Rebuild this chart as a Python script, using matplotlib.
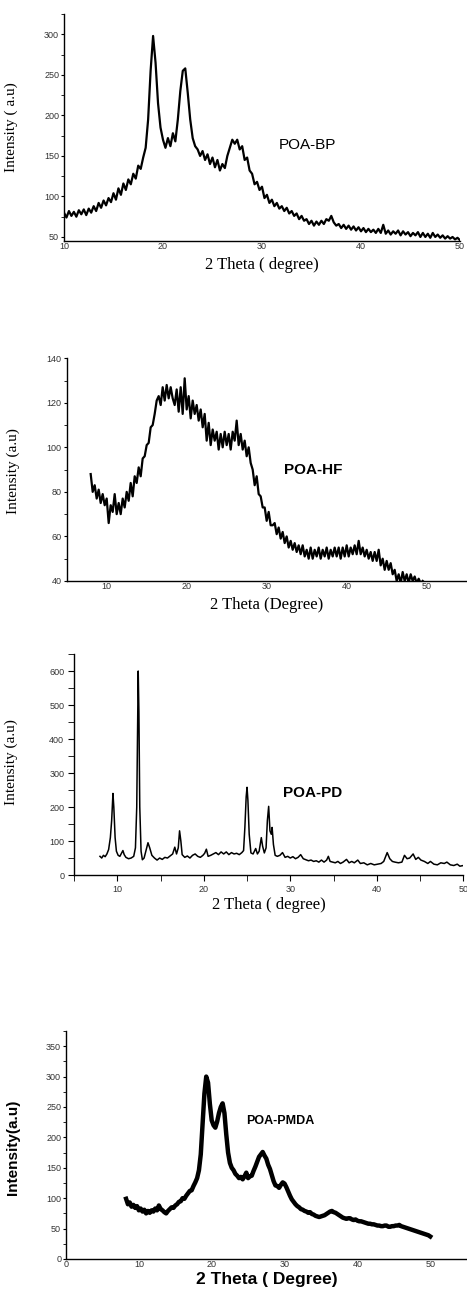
import numpy as np
import matplotlib
matplotlib.use("Agg")
import matplotlib.pyplot as plt
from matplotlib.ticker import MultipleLocator

# ---- data ----
# POA-BP, 10..50 deg, 0.25 deg step
bp_counts = [80, 74, 82, 76, 81, 75, 83, 78,
             84, 77, 85, 80, 88, 82, 92, 86,
             95, 89, 98, 93, 104, 96, 110, 102,
             116, 108, 121, 115, 128, 122, 138, 134,
             148, 160, 195, 255, 298, 265, 215, 185,
             170, 160, 172, 162, 178, 168, 195, 230,
             255, 258, 228, 195, 172, 162, 158, 150,
             156, 145, 152, 140, 148, 136, 145, 132,
             140, 135, 150, 160, 170, 165, 170, 158,
             162, 145, 148, 132, 128, 115, 118, 108,
             112, 98, 102, 92, 96, 88, 92, 85,
             88, 82, 86, 79, 82, 76, 79, 72,
             76, 70, 72, 66, 70, 64, 69, 65,
             70, 66, 72, 70, 76, 68, 64, 66,
             61, 65, 60, 64, 59, 63, 58, 62,
             57, 61, 56, 60, 56, 59, 55, 60,
             55, 65, 54, 58, 53, 57, 54, 58,
             52, 57, 53, 56, 51, 55, 52, 56,
             50, 55, 50, 54, 49, 55, 50, 53,
             49, 52, 48, 51, 48, 50, 47, 49,
             46]
bp_theta = np.linspace(10, 50, len(bp_counts))

# POA-HF, 8..49.5 deg, 0.25 deg step
hf_counts = [88, 80, 83, 77, 81, 75, 79, 74,
             77, 66, 74, 71, 79, 70, 75, 70,
             77, 73, 80, 76, 84, 78, 87, 84,
             91, 87, 95, 96, 101, 102, 109, 110,
             115, 121, 123, 119, 127, 121, 128, 122,
             127, 122, 119, 126, 116, 127, 115, 131,
             117, 123, 113, 121, 115, 119, 112, 117,
             109, 115, 103, 111, 101, 108, 103, 107,
             99, 106, 100, 107, 101, 106, 99, 107,
             103, 112, 101, 106, 99, 103, 96, 100,
             93, 90, 83, 87, 79, 78, 73, 73,
             67, 71, 65, 65, 66, 61, 64, 59,
             62, 57, 60, 55, 58, 54, 57, 53,
             56, 52, 56, 51, 54, 50, 55, 50,
             54, 51, 55, 50, 54, 51, 55, 50,
             54, 51, 55, 51, 55, 50, 55, 51,
             56, 51, 55, 52, 56, 52, 58, 52,
             55, 51, 54, 50, 53, 49, 53, 49,
             54, 47, 50, 45, 49, 45, 48, 43,
             45, 40, 43, 39, 44, 40, 43, 39,
             43, 40, 42, 39, 41, 39, 40]
hf_theta = np.linspace(8, 49.5, len(hf_counts))

# POA-PD, sharp peaks so sampled unevenly
pd_theta = [8.0, 8.2, 8.4, 8.6, 8.8, 9.0, 9.2, 9.35, 9.5, 9.6, 9.75, 9.9,
            10.1, 10.3, 10.5, 10.65, 10.8, 11.0, 11.3, 11.6, 11.9, 12.1,
            12.25, 12.35, 12.42, 12.5, 12.6, 12.75, 12.9, 13.1, 13.3, 13.55,
            13.75, 14.0, 14.3, 14.6, 14.9, 15.2, 15.5, 15.8, 16.1, 16.4,
            16.65, 16.85, 17.05, 17.2, 17.35, 17.5, 17.8, 18.1, 18.4, 18.7,
            19.0, 19.3, 19.6, 19.9, 20.1, 20.3, 20.5, 20.8, 21.1, 21.4,
            21.7, 22.0, 22.3, 22.6, 22.9, 23.2, 23.5, 23.8, 24.1, 24.4,
            24.6, 24.75, 24.9, 25.0, 25.1, 25.25, 25.45, 25.7, 26.0, 26.2,
            26.4, 26.65, 26.8, 27.0, 27.2, 27.35, 27.5, 27.65, 27.8, 27.9,
            28.05, 28.25, 28.5, 28.8, 29.1, 29.4, 29.7, 30.0, 30.3, 30.6,
            30.9, 31.2, 31.5, 31.8, 32.1, 32.4, 32.7, 33.0, 33.3, 33.6,
            33.9, 34.2, 34.4, 34.6, 34.9, 35.2, 35.5, 35.8, 36.1, 36.5,
            36.8, 37.1, 37.4, 37.8, 38.1, 38.5, 38.9, 39.3, 39.7, 40.1,
            40.5, 40.8, 41.2, 41.5, 41.8, 42.1, 42.5, 42.9, 43.2, 43.5,
            43.8, 44.2, 44.5, 44.8, 45.1, 45.5, 45.9, 46.2, 46.6, 47.0,
            47.4, 47.8, 48.1, 48.5, 48.9, 49.3, 49.6, 50.0]
pd_counts = [55, 50, 58, 54, 62, 75, 110, 160, 240, 200, 110, 70,
             58, 55, 65, 72, 60, 52, 48, 50, 55, 80,
             200, 450, 600, 480, 200, 70, 45, 50, 70, 95,
             80, 58, 50, 44, 50, 46, 52, 50, 56, 62,
             82, 62, 80, 130, 100, 60, 52, 56, 50, 58,
             62, 55, 52, 58, 64, 76, 55, 58, 62, 66,
             60, 68, 62, 68, 60, 66, 62, 64, 60, 66,
             72, 140, 230, 258, 220, 120, 65, 62, 78, 62,
             70, 110, 85, 65, 80, 160, 202, 130, 120, 140,
             90, 58, 55, 58, 66, 52, 55, 50, 54, 48,
             52, 60, 48, 45, 42, 44, 40, 42, 38, 44,
             38, 44, 55, 40, 38, 36, 40, 34, 38, 46,
             36, 40, 36, 44, 34, 36, 30, 34, 30, 32,
             34, 40, 66, 48, 40, 38, 36, 38, 58, 48,
             50, 62, 46, 52, 44, 40, 34, 40, 32, 30,
             36, 34, 38, 30, 28, 32, 26, 28]

# POA-PMDA, 8.25..50 deg, 0.25 deg step
pmda_counts = [99, 90, 93, 86, 89, 84, 87,
               80, 83, 78, 81, 75, 79, 76, 80,
               78, 83, 80, 88, 82, 80, 77, 75,
               79, 82, 85, 84, 88, 90, 94, 95,
               100, 99, 104, 108, 112, 113, 120, 126,
               133, 146, 172, 222, 272, 300, 290, 255,
               228, 220, 216, 226, 240, 250, 256, 240,
               205, 175, 158, 150, 146, 140, 137, 133,
               135, 131, 136, 142, 133, 136, 137, 145,
               152, 160, 168, 172, 176, 170, 165, 155,
               148, 138, 128, 121, 120, 117, 122, 126,
               124, 118, 111, 104, 98, 94, 90, 87,
               85, 82, 81, 79, 78, 76, 77, 74,
               73, 71, 70, 69, 70, 71, 72, 74,
               76, 78, 79, 77, 76, 74, 72, 70,
               68, 67, 66, 67, 67, 65, 64, 65,
               63, 62, 62, 61, 60, 59, 58, 58,
               57, 57, 56, 55, 55, 54, 54, 55,
               55, 53, 53, 54, 54, 55, 55, 56,
               54, 53, 52, 51, 50, 49, 48, 47,
               46, 45, 44, 43, 42, 41, 40, 39,
               37]
pmda_theta = np.linspace(8.25, 50, len(pmda_counts))

SANS = "Liberation Sans"
SERIF = "Liberation Serif"

fig = plt.figure(figsize=(4.67, 12.91), dpi=100)


def style_axes(ax, tick_len_y, tick_len_x, pad_y, pad_x):
    ax.spines["top"].set_visible(False)
    ax.spines["right"].set_visible(False)
    for s in ("left", "bottom"):
        ax.spines[s].set_linewidth(1.0)
    ax.tick_params(axis="y", which="major", direction="out", length=tick_len_y,
                   width=0.8, pad=pad_y, labelsize=6.5, labelcolor="#333333")
    ax.tick_params(axis="y", which="minor", direction="out", length=tick_len_y,
                   width=0.6)
    ax.tick_params(axis="x", which="major", direction="out", length=tick_len_x,
                   width=0.8, pad=pad_x, labelsize=6.5, labelcolor="#333333")
    ax.tick_params(axis="x", which="minor", direction="out", length=tick_len_x,
                   width=0.6)
    for lab in ax.get_xticklabels() + ax.get_yticklabels():
        lab.set_fontfamily(SANS)


# ---- panel 1: POA-BP ----
ax1 = fig.add_axes([0.137, 0.8133, 0.848, 0.1758])
ax1.plot(bp_theta, bp_counts, color="black", lw=1.6)
ax1.set_xlim(10, 50)
ax1.set_ylim(45, 325)
ax1.yaxis.set_major_locator(MultipleLocator(50))
ax1.yaxis.set_minor_locator(MultipleLocator(25))
ax1.xaxis.set_major_locator(MultipleLocator(10))
style_axes(ax1, 2.5, 0, 1, 0.5)
ax1.set_ylabel("Intensity ( a.u)", fontfamily=SERIF, fontsize=11)
ax1.yaxis.set_label_coords(-0.116, 0.5)
ax1.set_xlabel("2 Theta ( degree)", fontfamily=SERIF, fontsize=12)
ax1.xaxis.set_label_coords(0.5, -0.07)
ax1.xaxis.label.set_va("top")
ax1.text(31.7, 163, "POA-BP", fontfamily=SANS, fontsize=11, va="center")

# ---- panel 2: POA-HF ----
ax2 = fig.add_axes([0.1428, 0.5500, 0.8565, 0.1725])
ax2.plot(hf_theta, hf_counts, color="black", lw=1.6)
ax2.set_xlim(5, 55)
ax2.set_ylim(40, 140)
ax2.yaxis.set_major_locator(MultipleLocator(20))
ax2.yaxis.set_minor_locator(MultipleLocator(10))
ax2.set_xticks([10, 20, 30, 40, 50])
style_axes(ax2, 2.5, 0, 1, 0.5)
ax2.set_ylabel("Intensity (a.u)", fontfamily=SERIF, fontsize=11)
ax2.yaxis.set_label_coords(-0.117, 0.494)
ax2.set_xlabel("2 Theta (Degree)", fontfamily=SERIF, fontsize=12)
ax2.xaxis.set_label_coords(0.5, -0.07)
ax2.xaxis.label.set_va("top")
ax2.text(32.2, 90, "POA-HF", fontfamily=SANS, fontsize=11,
         fontweight="bold", va="center")

# ---- panel 3: POA-PD ----
ax3 = fig.add_axes([0.1585, 0.3222, 0.8336, 0.1712])
ax3.plot(pd_theta, pd_counts, color="black", lw=1.1)
ax3.set_xlim(5, 50)
ax3.set_ylim(0, 650)
ax3.yaxis.set_major_locator(MultipleLocator(100))
ax3.yaxis.set_minor_locator(MultipleLocator(50))
ax3.xaxis.set_major_locator(MultipleLocator(10))
ax3.xaxis.set_minor_locator(MultipleLocator(5))
style_axes(ax3, 4, 4, 3, 3)
ax3.set_ylabel("Intensity (a.u)", fontfamily=SERIF, fontsize=11)
ax3.yaxis.set_label_coords(-0.144, 0.51)
ax3.set_xlabel("2 Theta ( degree)", fontfamily=SERIF, fontsize=12)
ax3.xaxis.set_label_coords(0.5, -0.1)
ax3.xaxis.label.set_va("top")
ax3.text(29.2, 241, "POA-PD", fontfamily=SANS, fontsize=11,
         fontweight="bold", va="center")

# ---- panel 4: POA-PMDA ----
ax4 = fig.add_axes([0.1413, 0.0248, 0.858, 0.1766])
ax4.plot(pmda_theta, pmda_counts, color="black", lw=3.2)
ax4.set_xlim(0, 55)
ax4.set_ylim(0, 375)
ax4.yaxis.set_major_locator(MultipleLocator(50))
ax4.yaxis.set_minor_locator(MultipleLocator(25))
ax4.set_xticks([0, 10, 20, 30, 40, 50])
style_axes(ax4, 2.5, 0, 1, 0.5)
ax4.set_ylabel("Intensity(a.u)", fontfamily=SANS, fontsize=11,
               fontweight="bold")
ax4.yaxis.set_label_coords(-0.115, 0.49)
ax4.set_xlabel("2 Theta ( Degree)", fontfamily=SANS, fontsize=12.5,
               fontweight="bold")
ax4.xaxis.set_label_coords(0.5, -0.055)
ax4.xaxis.label.set_va("top")
ax4.text(24.7, 227, "POA-PMDA", fontfamily=SANS, fontsize=9,
         fontweight="bold", va="center")

fig.savefig("out.png", dpi=100)
